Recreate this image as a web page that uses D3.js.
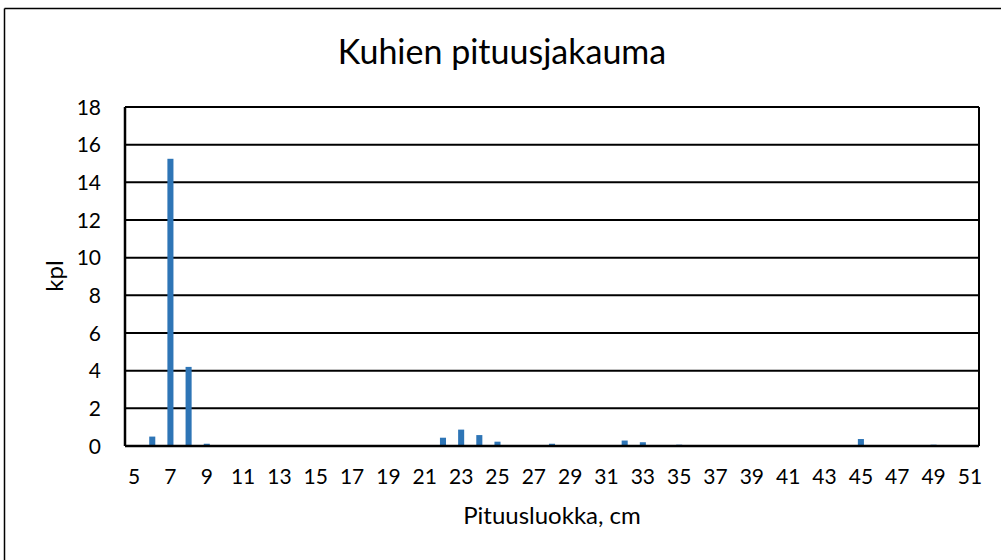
<!DOCTYPE html>
<html><head><meta charset="utf-8">
<script src="https://cdn.jsdelivr.net/npm/d3@7"></script>
<style>body{margin:0;background:#fff}svg{display:block}text{font-family:Lato,"Noto Sans",sans-serif;fill:#000}</style>
</head><body><svg id="c" width="1001" height="560"></svg>
<script>
const categories = [5,6,7,8,9,10,11,12,13,14,15,16,17,18,19,20,21,22,23,24,25,26,27,28,29,30,31,32,33,34,35,36,37,38,39,40,41,42,43,44,45,46,47,48,49,50,51];
const values = [0,0.5,15.25,4.2,0.12,0,0,0,0,0,0,0,0,0,0,0,0,0.44,0.87,0.58,0.23,0,0,0.12,0,0,0,0.29,0.2,0,0.07,0,0,0,0,0,0,0,0,0,0.37,0,0,0,0.07,0,0];
const xTickLabels = [5,7,9,11,13,15,17,19,21,23,25,27,29,31,33,35,37,39,41,43,45,47,49,51];
const yTicks = [0,2,4,6,8,10,12,14,16,18];
const title = "Kuhien pituusjakauma";
const xTitle = "Pituusluokka, cm";
const yTitle = "kpl";

const svg = d3.select("#c");
const L=125, R=979, T=107, B=446;
svg.append("line").attr("x1",4.5).attr("x2",1001).attr("y1",8.5).attr("y2",8.5).attr("stroke","#000").attr("stroke-width",1.5);
svg.append("line").attr("x1",4.5).attr("x2",4.5).attr("y1",8.5).attr("y2",560).attr("stroke","#000").attr("stroke-width",1.5);

const x = d3.scaleBand().domain(categories).range([L,R]).paddingInner(2/3).paddingOuter(1/3);
const y = d3.scaleLinear().domain([0,18]).range([B,T]);

svg.append("g").selectAll("line").data(yTicks.filter(d=>d>0)).join("line")
  .attr("x1",L).attr("x2",R).attr("y1",d=>y(d)).attr("y2",d=>y(d))
  .attr("stroke","#000").attr("stroke-width",2);

svg.append("g").selectAll("rect").data(categories.map((c,i)=>({c,v:values[i]})).filter(d=>d.v>0)).join("rect")
  .attr("x",d=>x(d.c)).attr("width",x.bandwidth())
  .attr("y",d=>y(d.v)).attr("height",d=>B-y(d.v))
  .attr("fill","#2E75B6");

svg.append("line").attr("x1",L).attr("x2",L).attr("y1",T).attr("y2",B).attr("stroke","#000").attr("stroke-width",2.5);
svg.append("line").attr("x1",R).attr("x2",R).attr("y1",T).attr("y2",B).attr("stroke","#000").attr("stroke-width",2);
svg.append("line").attr("x1",L).attr("x2",R).attr("y1",B).attr("y2",B).attr("stroke","#000").attr("stroke-width",2.5);

svg.append("g").selectAll("text").data(yTicks).join("text")
  .attr("x",101).attr("y",d=>y(d)).attr("dy","0.36em").attr("text-anchor","end")
  .style("font-size","21px").text(d=>d);
svg.append("g").selectAll("text").data(xTickLabels).join("text")
  .attr("x",d=>x(d)+x.bandwidth()/2).attr("y",484).attr("text-anchor","middle")
  .style("font-size","21px").text(d=>d);

svg.append("text").attr("x",552).attr("y",524).attr("text-anchor","middle").style("font-size","24px").text(xTitle);
svg.append("text").attr("transform","translate(63,276) rotate(-90)").attr("text-anchor","middle").style("font-size","24px").text(yTitle);
svg.append("text").attr("x",502).attr("y",64).attr("text-anchor","middle").style("font-size","34px").text(title);
</script></body></html>
